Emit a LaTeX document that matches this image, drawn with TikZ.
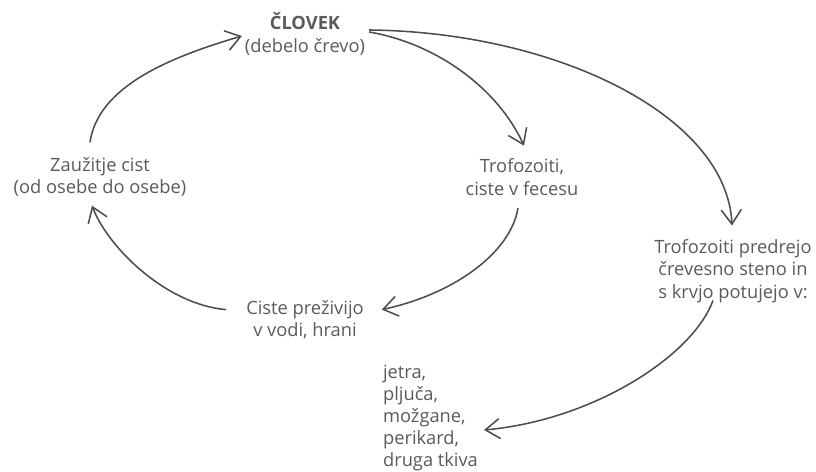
\documentclass[tikz,border=0pt]{standalone}
\usepackage{fontspec}
\setmainfont{Open Sans}
\usepackage{tikz}
\usetikzlibrary{arrows.meta, calc}
\definecolor{inkgray}{HTML}{5A5A5A}
\definecolor{arrowgray}{HTML}{4D4D4D}

\begin{document}
\begin{tikzpicture}[x=0.025cm, y=-0.025cm,
  lbl/.style={text=inkgray, align=center, inner sep=2pt,
              font=\fontsize{13}{15.8}\selectfont},
  flow/.style={arrowgray, line width=1.1pt,
               -{Straight Barb[length=3.6mm, width=5mm]}}]
  \useasboundingbox (0,0) rectangle (816,472);
  % stages of the cycle
  \node[lbl] (clovek) at (305,34) {\textbf{ČLOVEK}\\(debelo črevo)};
  \node[lbl] (zauzitje) at (100,177) {Zaužitje cist\\(od osebe do osebe)};
  \node[lbl] (trofo) at (522,177) {Trofozoiti,\\ciste v fecesu};
  \node[lbl] (ciste) at (305,320) {Ciste preživijo\\v vodi, hrani};
  \node[lbl] (predrejo) at (733,271) {Trofozoiti predrejo\\črevesno steno in\\s krvjo potujejo v:};
  \node[lbl, align=left, anchor=west] (organi) at (380,418)
      {jetra,\\pljuča,\\možgane,\\perikard,\\druga tkiva};
  % the cycle itself
  \draw[flow] ($(zauzitje.north)+(-10,-12)$) .. controls +(8,-55) and +(-75,22) .. ($(clovek.west)+(0,2)$);
  \draw[flow] ($(clovek.east)+(1,-2)$) .. controls +(70,12) and +(-25,-55) .. ($(trofo.north)+(2,-10)$);
  \draw[flow] ($(trofo.south)+(-4,10)$) .. controls +(-8,46) and +(70,-15) .. ($(ciste.north east)+(15,12)$);
  \draw[flow] ($(ciste.north west)+(-17,12)$) .. controls +(-60,-5) and +(16,42) .. ($(zauzitje.south)+(-8,6)$);
  % invasive branch
  \draw[flow] ($(clovek.east)+(1,-4)$) .. controls +(187,2) and +(-5,-110) .. ($(predrejo.north)+(-1,-11)$);
  \draw[flow] ($(predrejo.south)+(-20,-5)$) .. controls +(-20,55) and +(110,-10) .. ($(organi.east)+(3,12)$);
\end{tikzpicture}
\end{document}
